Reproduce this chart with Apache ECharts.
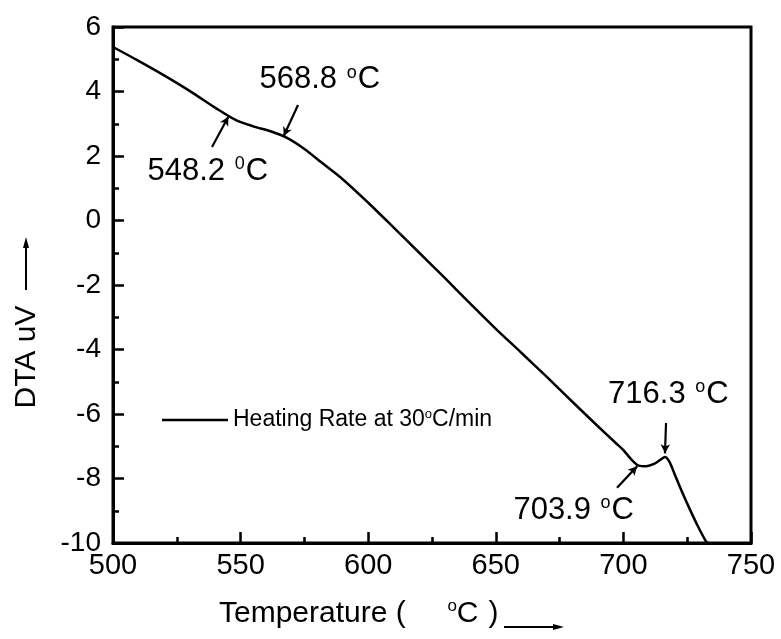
<!DOCTYPE html>
<html>
<head>
<meta charset="utf-8">
<script src="https://cdn.jsdelivr.net/npm/echarts@6/dist/echarts.min.js"></script>
<style>
  html, body { margin: 0; padding: 0; background: #fff; }
  #chart { width: 781px; height: 639px; }
</style>
</head>
<body>
<div id="chart"></div>
<script>
// DTA trace recorded while heating at 30 °C/min
const temperature = [500, 510, 520, 530, 540, 548, 555, 562, 568, 575, 582, 590, 600, 610, 620, 630, 640, 650, 660, 670, 680, 690, 697, 700, 703, 706, 709, 712, 714.5, 716.3, 718, 720, 723, 726, 729, 732, 733];
const dtaSignal   = [5.38, 4.95, 4.50, 4.02, 3.50, 3.12, 2.92, 2.76, 2.57, 2.22, 1.78, 1.28, 0.55, -0.22, -1.00, -1.78, -2.58, -3.36, -4.10, -4.85, -5.62, -6.38, -6.90, -7.12, -7.40, -7.60, -7.62, -7.55, -7.42, -7.33, -7.48, -7.85, -8.42, -8.95, -9.45, -9.90, -10.0];

// axis ranges
const xRange = { min: 500, max: 750, interval: 50 };
const yRange = { min: -10, max: 6, interval: 2 };

// transition temperatures, the degree mark drawn beside each, and where the text sits
const noteText   = ['548.2', '568.8', '703.9', '716.3'];
const noteDegree = ['0', 'o', 'o', 'o'];
const noteAnchor = [[513.3, 1.53], [557.2, 4.36], [656.7, -8.98], [693.8, -5.38]];
// leader lines (from text towards the curve)
const leaderFrom = [[538.8, 2.28], [572.5, 3.58], [697.5, -8.29], [716.7, -6.28]];
const leaderTo   = [[545.2, 3.22], [566.9, 2.62], [705.4, -7.62], [716.3, -7.22]];

const seriesName = 'Heating Rate at 30°C/min';

const FONT = 'Liberation Sans, Arial, sans-serif';

const noteRich = {
  a: { fontFamily: FONT, fontSize: 31, color: '#000', lineHeight: 32 },
  s: { fontFamily: FONT, fontSize: 18, color: '#000', lineHeight: 32, verticalAlign: 'top', padding: [0, 1, 0, 1] }
};
const titleRich = {
  a: { fontFamily: FONT, fontSize: 30, color: '#000', lineHeight: 32 },
  s: { fontFamily: FONT, fontSize: 17, color: '#000', lineHeight: 32, verticalAlign: 'top' },
  p: { fontFamily: FONT, fontSize: 30, color: '#000', lineHeight: 32, padding: [0, 0, 0, 10] }
};

const chart = echarts.init(document.getElementById('chart'), null, { renderer: 'canvas' });

const option = {
  backgroundColor: '#fff',
  animation: false,
  grid: {
    left: 113, right: 30, top: 27, bottom: 96,
    show: true, borderColor: '#000', borderWidth: 3, backgroundColor: 'transparent'
  },
  legend: {
    left: 162, top: 408, padding: 0,
    icon: 'rect', itemWidth: 66, itemHeight: 2.5, itemGap: 6,
    data: [seriesName],
    formatter: () => '{a|Heating Rate at 30}{s|o}{a|C/min}',
    textStyle: {
      rich: {
        a: { fontFamily: FONT, fontSize: 23, color: '#000', lineHeight: 24 },
        s: { fontFamily: FONT, fontSize: 13, color: '#000', lineHeight: 24, verticalAlign: 'top' }
      }
    }
  },
  xAxis: {
    type: 'value', min: xRange.min, max: xRange.max, interval: xRange.interval,
    axisLine: { show: true, onZero: false, lineStyle: { color: '#000', width: 3 } },
    axisTick: { show: true, inside: true, length: 11, lineStyle: { color: '#000', width: 2.5 } },
    minorTick: { show: true, splitNumber: 2, length: 6, lineStyle: { color: '#000', width: 2.5 } },
    splitLine: { show: false },
    axisLabel: { color: '#000', fontFamily: FONT, fontSize: 29, margin: 8 }
  },
  yAxis: {
    type: 'value', min: yRange.min, max: yRange.max, interval: yRange.interval,
    axisLine: { show: true, onZero: false, lineStyle: { color: '#000', width: 3 } },
    axisTick: { show: true, inside: true, length: 11, lineStyle: { color: '#000', width: 2.5 } },
    minorTick: { show: true, splitNumber: 2, length: 6, lineStyle: { color: '#000', width: 2.5 } },
    splitLine: { show: false },
    axisLabel: { color: '#000', fontFamily: FONT, fontSize: 28, margin: 12 }
  },
  series: [{
    name: seriesName,
    type: 'line',
    data: temperature.map((t, i) => [t, dtaSignal[i]]),
    showSymbol: false,
    smooth: 0.3,
    color: '#000',
    lineStyle: { color: '#000', width: 2.5 },
    markLine: {
      silent: true,
      symbol: ['none', 'arrow'],
      symbolSize: [7, 9],
      lineStyle: { color: '#000', width: 2.2, type: 'solid' },
      label: { show: false },
      data: leaderFrom.map((p, i) => [{ coord: p }, { coord: leaderTo[i] }])
    },
    markPoint: {
      silent: true,
      symbol: 'circle',
      symbolSize: 1,
      itemStyle: { color: 'rgba(0,0,0,0)' },
      data: noteText.map((t, i) => ({
        coord: noteAnchor[i],
        label: {
          show: true, position: 'right', distance: 0,
          formatter: '{a|' + t + ' }{s|' + noteDegree[i] + '}{a|C}',
          rich: noteRich
        }
      }))
    }
  }],
  graphic: [
    // y-axis title with arrow
    {
      type: 'text', x: 27, y: 357, rotation: Math.PI / 2,
      style: { text: 'DTA uV', font: '30px ' + FONT, fill: '#000', textAlign: 'center', textVerticalAlign: 'middle' }
    },
    { type: 'line', shape: { x1: 26, y1: 290, x2: 26, y2: 246 }, style: { stroke: '#000', lineWidth: 2 } },
    { type: 'polygon', shape: { points: [[26, 237], [23, 248], [29, 248]] }, style: { fill: '#000' } },
    // x-axis title with arrow
    {
      type: 'text', x: 219, y: 614,
      style: {
        text: '{a|Temperature (     }{s|o}{a|C}{p|)}',
        rich: titleRich, textAlign: 'left', textVerticalAlign: 'middle'
      }
    },
    { type: 'line', shape: { x1: 504, y1: 627, x2: 556, y2: 627 }, style: { stroke: '#000', lineWidth: 2 } },
    { type: 'polygon', shape: { points: [[564, 627], [553, 624], [553, 630]] }, style: { fill: '#000' } }
  ]
};

chart.setOption(option);
</script>
</body>
</html>
